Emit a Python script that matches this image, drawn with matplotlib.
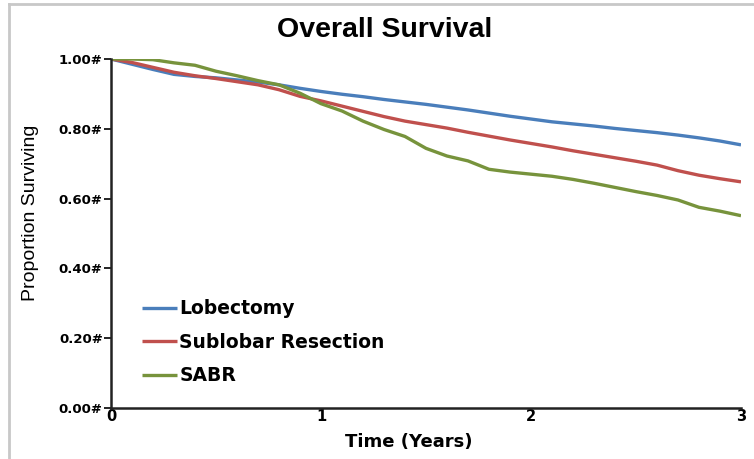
import numpy as np
import matplotlib
matplotlib.use("Agg")
import matplotlib.pyplot as plt
from matplotlib.lines import Line2D

# survival, every 0.1 year
years = [round(0.1 * i, 1) for i in range(31)]

lobectomy = [1.000, 0.985, 0.970, 0.956, 0.950, 0.946, 0.940, 0.934, 0.926, 0.916,
             0.907, 0.899, 0.892, 0.884, 0.877, 0.870, 0.862, 0.854, 0.845, 0.836,
             0.828, 0.820, 0.814, 0.808, 0.801, 0.795, 0.789, 0.782, 0.774, 0.765,
             0.754]
sublobar = [1.000, 0.990, 0.976, 0.962, 0.952, 0.944, 0.935, 0.926, 0.912, 0.893,
            0.880, 0.865, 0.850, 0.835, 0.822, 0.812, 0.802, 0.790, 0.779, 0.768,
            0.758, 0.748, 0.737, 0.727, 0.717, 0.707, 0.696, 0.680, 0.667, 0.657,
            0.648]
sabr = [1.000, 1.000, 0.998, 0.989, 0.982, 0.965, 0.952, 0.938, 0.926, 0.902,
        0.872, 0.851, 0.822, 0.798, 0.778, 0.744, 0.722, 0.708, 0.684, 0.676,
        0.670, 0.664, 0.655, 0.644, 0.632, 0.620, 0.609, 0.596, 0.575, 0.564,
        0.551]

labels = ["Lobectomy", "Sublobar Resection", "SABR"]
colors = ["#4a7ebb", "#c0504d", "#77933c"]

yticks = [0.0, 0.2, 0.4, 0.6, 0.8, 1.0]
ytick_labels = ["0.00#", "0.20#", "0.40#", "0.60#", "0.80#", "1.00#"]
xticks = [0, 1, 2, 3]

fig = plt.figure(figsize=(7.54, 4.59), dpi=100)
ax = fig.add_axes([111 / 754, 1 - 408 / 459, 630 / 754, 349 / 459])

for vals, lab, col in zip([lobectomy, sublobar, sabr], labels, colors):
    ax.plot(years, vals, color=col, lw=2.4, label=lab, solid_capstyle="butt")

ax.set_xlim(0, 3)
ax.set_ylim(0, 1)
ax.spines["top"].set_visible(False)
ax.spines["right"].set_visible(False)
for s in ["left", "bottom"]:
    ax.spines[s].set_linewidth(1.8)
    ax.spines[s].set_color("#222222")

ax.set_yticks(yticks)
ax.set_yticklabels(ytick_labels, fontsize=9.5, fontweight="bold", family="DejaVu Sans")
ax.set_xticks(xticks)
ax.set_xticklabels([str(x) for x in xticks], fontsize=10.5, fontweight="bold", family="DejaVu Sans")
ax.tick_params(axis="y", length=5, width=1.2, pad=1)
ax.tick_params(axis="x", length=0, pad=1)

leg = ax.legend(loc="upper left", bbox_to_anchor=(0.022, 0.36), frameon=False,
                handlelength=1.9, handletextpad=0.1, labelspacing=0.78,
                prop={"family": "DejaVu Sans", "weight": "bold", "size": 13.5})

fig.text(0.51, 0.935, "Overall Survival", ha="center", va="center",
         fontsize=20.5, fontweight="bold", family="Liberation Sans")
fig.text(0.542, 0.038, "Time (Years)", ha="center", va="center",
         fontsize=13, fontweight="bold", family="DejaVu Sans")
fig.text(0.04, 0.536, "Proportion Surviving", ha="center", va="center",
         rotation=90, fontsize=14, family="Liberation Sans")

# grey frame of the original slide
fig.add_artist(Line2D([9 / 754, 9 / 754], [0, 1 - 4 / 459], transform=fig.transFigure,
                      color="#c8c8c8", lw=2))
fig.add_artist(Line2D([9 / 754, 1], [1 - 4 / 459, 1 - 4 / 459], transform=fig.transFigure,
                      color="#c8c8c8", lw=2))

fig.savefig("out.png", dpi=100)
